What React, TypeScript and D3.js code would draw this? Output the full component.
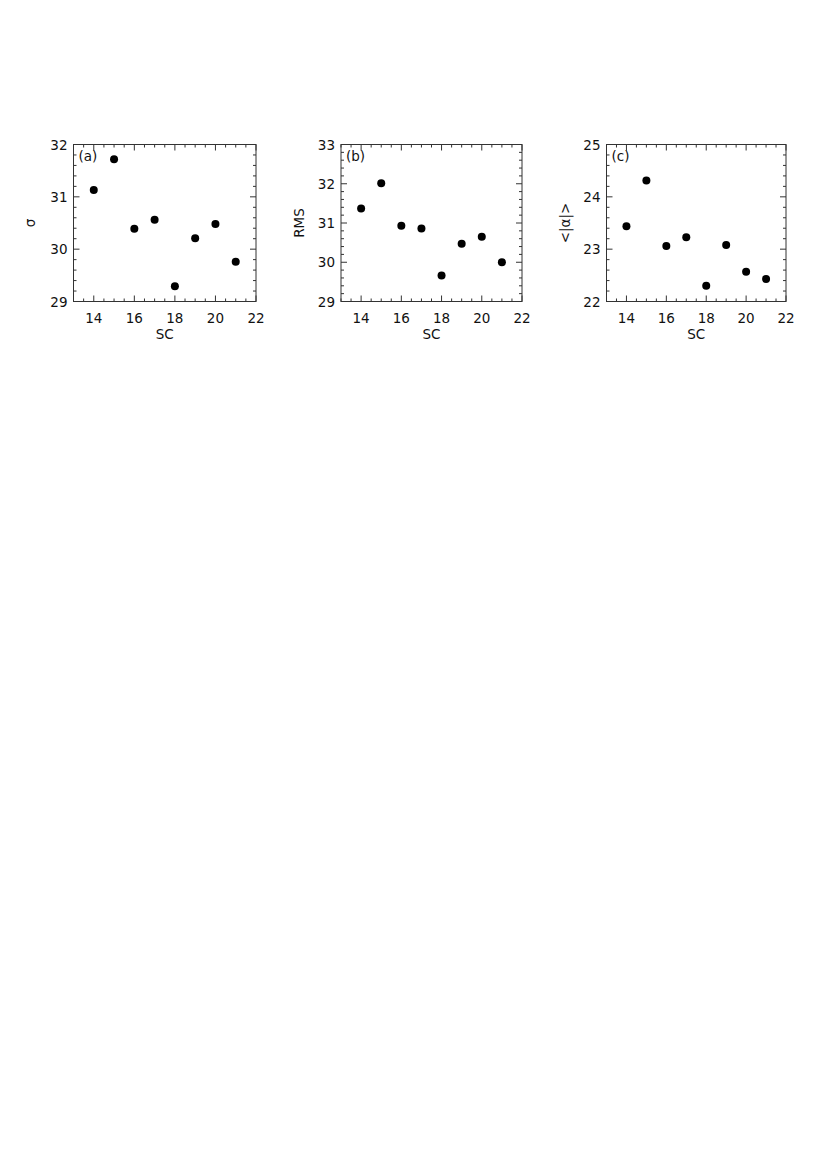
import React from "react";
import * as d3 from "d3";

const SC = [14, 15, 16, 17, 18, 19, 20, 21];
const sigmaValues = [31.13, 31.72, 30.39, 30.56, 29.29, 30.21, 30.48, 29.76];
const rmsValues = [31.37, 32.01, 30.93, 30.86, 29.66, 30.47, 30.65, 30.0];
const alphaValues = [23.44, 24.31, 23.06, 23.23, 22.3, 23.08, 22.57, 22.43];

const xTicks = [14, 16, 18, 20, 22];
const sigmaTicks = [29, 30, 31, 32];
const rmsTicks = [29, 30, 31, 32, 33];
const alphaTicks = [22, 23, 24, 25];

const panels = [
  { label: "(a)", ytitle: "σ", values: sigmaValues, domain: [29, 32], ticks: sigmaTicks, left: 73.5, width: 182.5, titleX: 31 },
  { label: "(b)", ytitle: "RMS", values: rmsValues, domain: [29, 33], ticks: rmsTicks, left: 341, width: 181, titleX: 300 },
  { label: "(c)", ytitle: "<|α|>", values: alphaValues, domain: [22, 25], ticks: alphaTicks, left: 606.5, width: 179.5, titleX: 566 },
];

const TOP = 144.5;
const HEIGHT = 157;
const FONT = "'DejaVu Sans', Verdana, sans-serif";
const FS = 13.5;
const AXIS = "#333";

function Panel({ p }: { p: (typeof panels)[number] }) {
  const x = d3.scaleLinear().domain([13, 22]).range([p.left, p.left + p.width]);
  const y = d3.scaleLinear().domain(p.domain as [number, number]).range([TOP + HEIGHT, TOP]);
  const bottom = TOP + HEIGHT;
  const right = p.left + p.width;
  const xMinor = d3.range(13, 22.001, 0.5);
  const yMinor = d3.range(p.domain[0], p.domain[1] + 0.001, 0.2);
  const isMajX = (v: number) => xTicks.some((t) => Math.abs(t - v) < 1e-6);
  const isMajY = (v: number) => p.ticks.some((t) => Math.abs(t - v) < 1e-6);
  return (
    <g>
      <rect x={p.left} y={TOP} width={p.width} height={HEIGHT} fill="none" stroke={AXIS} strokeWidth={1} />
      {xMinor.map((v, i) => {
        const L = isMajX(v) ? 6 : 3;
        return (
          <g key={"xm" + i}>
            <line x1={x(v)} x2={x(v)} y1={bottom} y2={bottom - L} stroke={AXIS} strokeWidth={1} />
            <line x1={x(v)} x2={x(v)} y1={TOP} y2={TOP + L} stroke={AXIS} strokeWidth={1} />
          </g>
        );
      })}
      {yMinor.map((v, i) => {
        const L = isMajY(v) ? 6 : 3;
        return (
          <g key={"ym" + i}>
            <line x1={p.left} x2={p.left + L} y1={y(v)} y2={y(v)} stroke={AXIS} strokeWidth={1} />
            <line x1={right} x2={right - L} y1={y(v)} y2={y(v)} stroke={AXIS} strokeWidth={1} />
          </g>
        );
      })}
      {xTicks.map((t) => (
        <text key={"xt" + t} x={x(t)} y={323} textAnchor="middle" fontSize={FS} fontFamily={FONT} fill="#111">
          {t}
        </text>
      ))}
      {p.ticks.map((t) => (
        <text key={"yt" + t} x={p.left - 6} y={y(t) + 5} textAnchor="end" fontSize={FS} fontFamily={FONT} fill="#111">
          {t}
        </text>
      ))}
      <text x={p.left + p.width / 2} y={339} textAnchor="middle" fontSize={FS} fontFamily={FONT} fill="#111">
        SC
      </text>
      <text
        transform={`translate(${p.titleX + 4},${TOP + HEIGHT / 2}) rotate(-90)`}
        textAnchor="middle"
        fontSize={FS}
        fontFamily={FONT}
        fill="#111"
      >
        {p.ytitle}
      </text>
      <text x={p.left + 5} y={TOP + 16} fontSize={FS} fontFamily={FONT} fill="#111">
        {p.label}
      </text>
      {SC.map((s, i) => (
        <circle key={"pt" + i} cx={x(s)} cy={y(p.values[i])} r={4} fill="#000" />
      ))}
    </g>
  );
}

export default function App() {
  return (
    <svg
      width={823}
      height={1163}
      style={{ position: "absolute", left: 0, top: 0, background: "#fff" }}
    >
      <rect width={823} height={1163} fill="#fff" />
      {panels.map((p) => (
        <Panel key={p.label} p={p} />
      ))}
    </svg>
  );
}
